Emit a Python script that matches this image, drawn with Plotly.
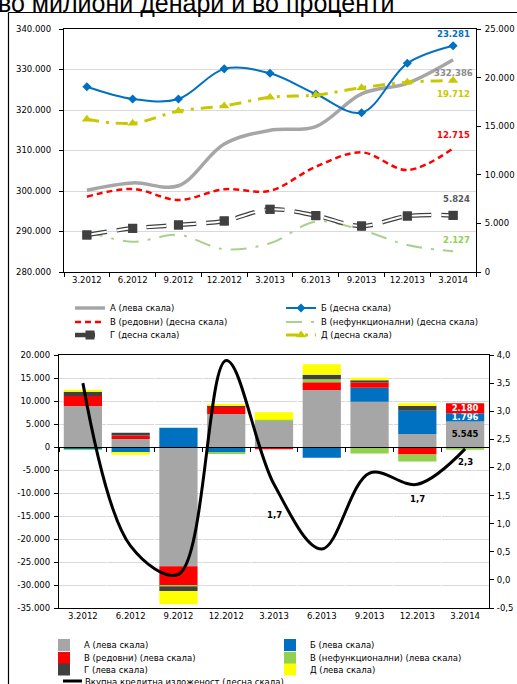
import plotly.graph_objects as go

W, H = 517, 684

categories = ["3.2012", "6.2012", "9.2012", "12.2012", "3.2013",
              "6.2013", "9.2013", "12.2013", "3.2014"]

# ---- top chart: levels (left scale: A, right scale: the rest)
a_level = [300200, 302000, 301300, 311600, 315000, 315900, 324000, 326600, 332386]
b_level = [19060, 17800, 17800, 20900, 20440, 18310, 16390, 21470, 23281]
v_reg_level = [7750, 8540, 7410, 8510, 8360, 10830, 12310, 10490, 12715]
v_nef_level = [4150, 3120, 3810, 2340, 2950, 5180, 4320, 2780, 2127]
g_level = [3810, 4490, 4840, 5250, 6450, 5800, 4730, 5760, 5824]
d_level = [15710, 15300, 16560, 17080, 17970, 18210, 18960, 19520, 19712]

# ---- bottom chart: changes (bars, left scale) and total exposure growth (line, right scale)
a_chg = [8900, 1750, -25900, 7150, 5850, 12400, 9850, 2830, 5545]
b_chg = [-450, -1200, 4200, -1150, -200, -2320, 3050, 5070, 1796]
v_reg_chg = [2200, 750, -4300, 1600, -300, 1650, 1100, -1650, 2180]
v_nef_chg = [-150, -100, -150, -300, 100, 700, -1400, -1500, -600]
g_chg = [900, 600, -950, 300, 0, 950, 500, 1000, 0]
d_chg = [450, -400, -2900, 250, 1600, 2300, 550, 600, 0]
total_exposure = [3.5, 0.6, 0.1, 3.9, 1.7, 0.55, 1.9, 1.7, 2.33]

top_left_ticks = [280000, 290000, 300000, 310000, 320000, 330000, 340000]
top_right_ticks = [0, 5000, 10000, 15000, 20000, 25000]
bot_left_ticks = [-35000, -30000, -25000, -20000, -15000, -10000, -5000, 0, 5000, 10000, 15000, 20000]
bot_right_ticks = [-0.5, 0.0, 0.5, 1.0, 1.5, 2.0, 2.5, 3.0, 3.5, 4.0]

names_top = ["А (лева скала)", "Б (десна скала)", "В (редовни) (десна скала)",
             "В (нефункционални) (десна скала)", "Г (десна скала)", "Д (десна скала)"]
names_bot = ["А (лева скала)", "Б (лева скала)", "В (редовни) (лева скала)",
             "В (нефункционални) (лева скала)", "Г (лева скала)", "Д (лева скала)",
             "Вкупна кредитна изложеност (десна скала)"]
title_text = "во милиони денари и во проценти"


def mk(v):
    return f"{v:,.0f}".replace(",", ".")


def mk1(v):
    return f"{v:.1f}".replace(".", ",")


def px_x(p):
    return p / W


def px_y(p):
    return 1 - p / H


FONT = "DejaVu Sans"
FS = 8.5
GREY, BLUE, RED, GREEN_L, GREEN, DARK, YEL_L, YEL = (
    "#a6a6a6", "#0070c0", "#ff0000", "#a9d18e", "#92d050", "#404040", "#c8c800", "#ffff00")

# legend slots (one legend per entry so the two-column grid can be placed exactly)
top_leg_pos = [(70, 308), (281, 308), (70, 322), (281, 322), (70, 335), (281, 335)]
bot_leg_pos = [(44, 645), (270, 645), (44, 658), (270, 658), (44, None), (270, None)]
top_leg = [f"legend{i + 1}" if i else "legend" for i in range(6)]
bot_leg = [f"legend{i + 7}" for i in range(6)]

fig = go.Figure()

# ---------------- top chart traces ----------------
fig.add_trace(go.Scatter(x=categories, y=a_level, name=names_top[0], mode="lines",
                         line=dict(color=GREY, width=3.5, shape="spline"),
                         xaxis="x", yaxis="y", legend=top_leg[0]))
fig.add_trace(go.Scatter(x=categories, y=b_level, name=names_top[1], mode="lines+markers",
                         line=dict(color=BLUE, width=2, shape="spline"),
                         marker=dict(symbol="diamond", size=7, color=BLUE),
                         xaxis="x", yaxis="y2", legend=top_leg[1]))
fig.add_trace(go.Scatter(x=categories, y=v_reg_level, name=names_top[2], mode="lines",
                         line=dict(color=RED, width=2.5, dash="6px,4px", shape="spline"),
                         xaxis="x", yaxis="y2", legend=top_leg[2]))
fig.add_trace(go.Scatter(x=categories, y=v_nef_level, name=names_top[3], mode="lines",
                         line=dict(color=GREEN_L, width=2, dash="16px,9px,3px,9px", shape="spline"),
                         xaxis="x", yaxis="y2", legend=top_leg[3]))
fig.add_trace(go.Scatter(x=categories, y=g_level, name=names_top[4], mode="lines+markers",
                         line=dict(color=DARK, width=4.5, dash="20px,10px", shape="spline"),
                         marker=dict(symbol="square", size=9, color=DARK),
                         xaxis="x", yaxis="y2", legend=top_leg[4]))
fig.add_trace(go.Scatter(x=categories, y=g_level, mode="lines", showlegend=False,
                         line=dict(color="white", width=2, dash="20px,10px", shape="spline"),
                         xaxis="x", yaxis="y2", hoverinfo="skip"))
fig.add_trace(go.Scatter(x=categories, y=g_level, mode="markers", showlegend=False,
                         marker=dict(symbol="square", size=9, color=DARK),
                         xaxis="x", yaxis="y2", hoverinfo="skip"))
fig.add_trace(go.Scatter(x=categories, y=d_level, name=names_top[5], mode="lines+markers",
                         line=dict(color=YEL_L, width=3, dash="12px,7px,3px,7px", shape="spline"),
                         marker=dict(symbol="triangle-up", size=9, color=YEL_L),
                         xaxis="x", yaxis="y2", legend=top_leg[5]))

# ---------------- bottom chart traces ----------------
bar_sets = [(a_chg, GREY), (b_chg, BLUE), (v_reg_chg, RED),
            (v_nef_chg, GREEN), (g_chg, DARK), (d_chg, YEL)]
last_label_color = {0: "black", 1: "white", 2: "white"}
for i, (vals, col) in enumerate(bar_sets):
    txt = None
    if i in last_label_color:
        txt = [""] * (len(vals) - 1) + [mk(vals[-1])]
    fig.add_trace(go.Bar(x=categories, y=vals, name=names_bot[i], marker=dict(color=col, line=dict(width=0)),
                         text=txt, textposition="inside", insidetextanchor="middle",
                         textfont=dict(family=FONT, size=FS, color=last_label_color.get(i, "black"), weight="bold"),
                         xaxis="x2", yaxis="y3", legend=bot_leg[i]))

# zero axis (crossing line of the lower chart)
fig.add_trace(go.Scatter(x=categories, y=[None] * len(categories), mode="lines", showlegend=False,
                         xaxis="x3", yaxis="y3", hoverinfo="skip"))

fig.add_trace(go.Scatter(x=categories, y=total_exposure, name=names_bot[6], mode="lines",
                         line=dict(color="black", width=3, shape="spline"), showlegend=False,
                         xaxis="x2", yaxis="y4"))

# ---------------- layout ----------------
tickfont = dict(family=FONT, size=FS, color="#000000")
bl_range = [bot_left_ticks[0], bot_left_ticks[-1]]
y3_dom = [px_y(608), px_y(355)]
zero_pos = y3_dom[0] + (0 - bl_range[0]) / (bl_range[1] - bl_range[0]) * (y3_dom[1] - y3_dom[0])
cat_range = [-0.5, len(categories) - 0.5]

axis_common = dict(showline=True, linecolor="black", linewidth=1.3, ticks="outside",
                   ticklen=4, tickcolor="black", tickfont=tickfont)

fig.update_layout(
    width=W, height=H, margin=dict(l=0, r=0, t=0, b=0), autosize=False,
    paper_bgcolor="white", plot_bgcolor="white", separators=",.",
    barmode="relative", bargap=0.2, showlegend=True,
    uniformtext=dict(minsize=FS, mode="show"),
    font=dict(family=FONT, size=FS, color="black"),
    xaxis=dict(domain=[px_x(64), px_x(476)], anchor="y", type="category", tickson="boundaries",
               range=cat_range, mirror=True, automargin=False, **axis_common),
    yaxis=dict(domain=[px_y(272), px_y(29)], anchor="x", range=[top_left_ticks[0], top_left_ticks[-1]],
               tickvals=top_left_ticks, ticktext=[mk(v) for v in top_left_ticks],
               showgrid=True, gridcolor="#d9d9d9", gridwidth=1, zeroline=False, automargin=False,
               ticklabelstandoff=6, **axis_common),
    yaxis2=dict(overlaying="y", side="right", anchor="x", range=[top_right_ticks[0], top_right_ticks[-1]],
                tickvals=top_right_ticks, ticktext=[mk(v) for v in top_right_ticks],
                showgrid=False, zeroline=False, automargin=False, ticklabelstandoff=2, **axis_common),
    xaxis2=dict(domain=[px_x(59), px_x(489)], anchor="y3", type="category", mirror=True, range=cat_range,
                showline=True, linecolor="black", linewidth=1.3, ticks="", tickfont=tickfont,
                tickangle=0, automargin=False),
    xaxis3=dict(overlaying="x2", anchor="free", position=zero_pos, type="category", tickson="boundaries",
                range=cat_range, showticklabels=False, automargin=False, layer="above traces", **axis_common),
    yaxis3=dict(domain=y3_dom, anchor="x2", range=bl_range,
                tickvals=bot_left_ticks, ticktext=[mk(v) for v in bot_left_ticks],
                showgrid=True, gridcolor="#d9d9d9", gridwidth=1, zeroline=False, automargin=False,
                ticklabelstandoff=2, **axis_common),
    yaxis4=dict(overlaying="y3", side="right", anchor="x2", range=[bot_right_ticks[0], bot_right_ticks[-1]],
                tickvals=bot_right_ticks, ticktext=[mk1(v) for v in bot_right_ticks],
                showgrid=False, zeroline=False, automargin=False, ticklabelstandoff=1, **axis_common),
)

leg_common = dict(orientation="h", xanchor="left", bgcolor="rgba(0,0,0,0)",
                  borderwidth=0, font=dict(family=FONT, size=FS, color="black"))
for k, (xp, yp) in zip(top_leg + bot_leg, top_leg_pos + bot_leg_pos):
    if yp is None:  # row on the bottom edge of the picture
        fig.update_layout({k: dict(x=px_x(xp), y=0, yanchor="bottom", **leg_common)})
    else:
        fig.update_layout({k: dict(x=px_x(xp), y=px_y(yp), yanchor="middle", **leg_common)})

bold = dict(family=FONT, size=FS, weight="bold")
last = len(categories) - 1
ann = [
    dict(x=last, y=b_level[-1], xref="x", yref="y2", text=mk(b_level[-1]),
         yshift=12, font=dict(color=BLUE, **bold)),
    dict(x=last, y=a_level[-1], xref="x", yref="y", text=mk(a_level[-1]),
         yshift=-13, font=dict(color="#8c8c8c", **bold)),
    dict(x=last, y=d_level[-1], xref="x", yref="y2", text=mk(d_level[-1]),
         yshift=-14, font=dict(color=YEL_L, **bold)),
    dict(x=last, y=v_reg_level[-1], xref="x", yref="y2", text=mk(v_reg_level[-1]),
         yshift=13, font=dict(color=RED, **bold)),
    dict(x=last, y=g_level[-1], xref="x", yref="y2", text=mk(g_level[-1]),
         yshift=16, xshift=3, font=dict(color="#595959", **bold)),
    dict(x=last, y=v_nef_level[-1], xref="x", yref="y2", text=mk(v_nef_level[-1]),
         yshift=11, xshift=3, font=dict(color=GREEN, **bold)),
    dict(x=4, y=total_exposure[4], xref="x2", yref="y4", text=mk1(total_exposure[4]),
         yshift=-31, font=dict(color="black", **bold)),
    dict(x=7, y=total_exposure[7], xref="x2", yref="y4", text=mk1(total_exposure[7]),
         yshift=-15, font=dict(color="black", **bold)),
    dict(x=8, y=total_exposure[8], xref="x2", yref="y4", text=mk1(int(total_exposure[8] * 10) / 10),
         yshift=-13, font=dict(color="black", **bold)),
    dict(x=px_x(196), y=px_y(19), xref="paper", yref="paper", text=title_text, xanchor="center",
         yanchor="bottom", font=dict(family="Liberation Sans", size=25, color="black")),
    # legend entry of the line series: it is cut by the lower edge of the picture
    dict(x=px_x(83), y=px_y(682), xref="paper", yref="paper", text=names_bot[6], xanchor="left",
         yanchor="middle", font=dict(family=FONT, size=FS, color="black")),
]
for a in ann:
    a.setdefault("showarrow", False)
fig.update_layout(annotations=ann)

# outer frame (only its left and top edges fall inside the picture)
frame = dict(color="black", width=1.2)
fig.add_shape(type="line", xref="paper", yref="paper", x0=px_x(8.5), x1=1,
              y0=px_y(12.5), y1=px_y(12.5), line=frame)
fig.add_shape(type="line", xref="paper", yref="paper", x0=px_x(8.5), x1=px_x(8.5),
              y0=0, y1=px_y(12.5), line=frame)
# swatch of the line series legend entry
fig.add_shape(type="line", xref="paper", yref="paper", x0=px_x(63), x1=px_x(82),
              y0=px_y(681), y1=px_y(681), line=dict(color="black", width=3))

post = "document.body.style.margin='0';document.body.style.overflow='hidden';"
fig.write_html("out.html", config={"displayModeBar": False}, post_script=post)
